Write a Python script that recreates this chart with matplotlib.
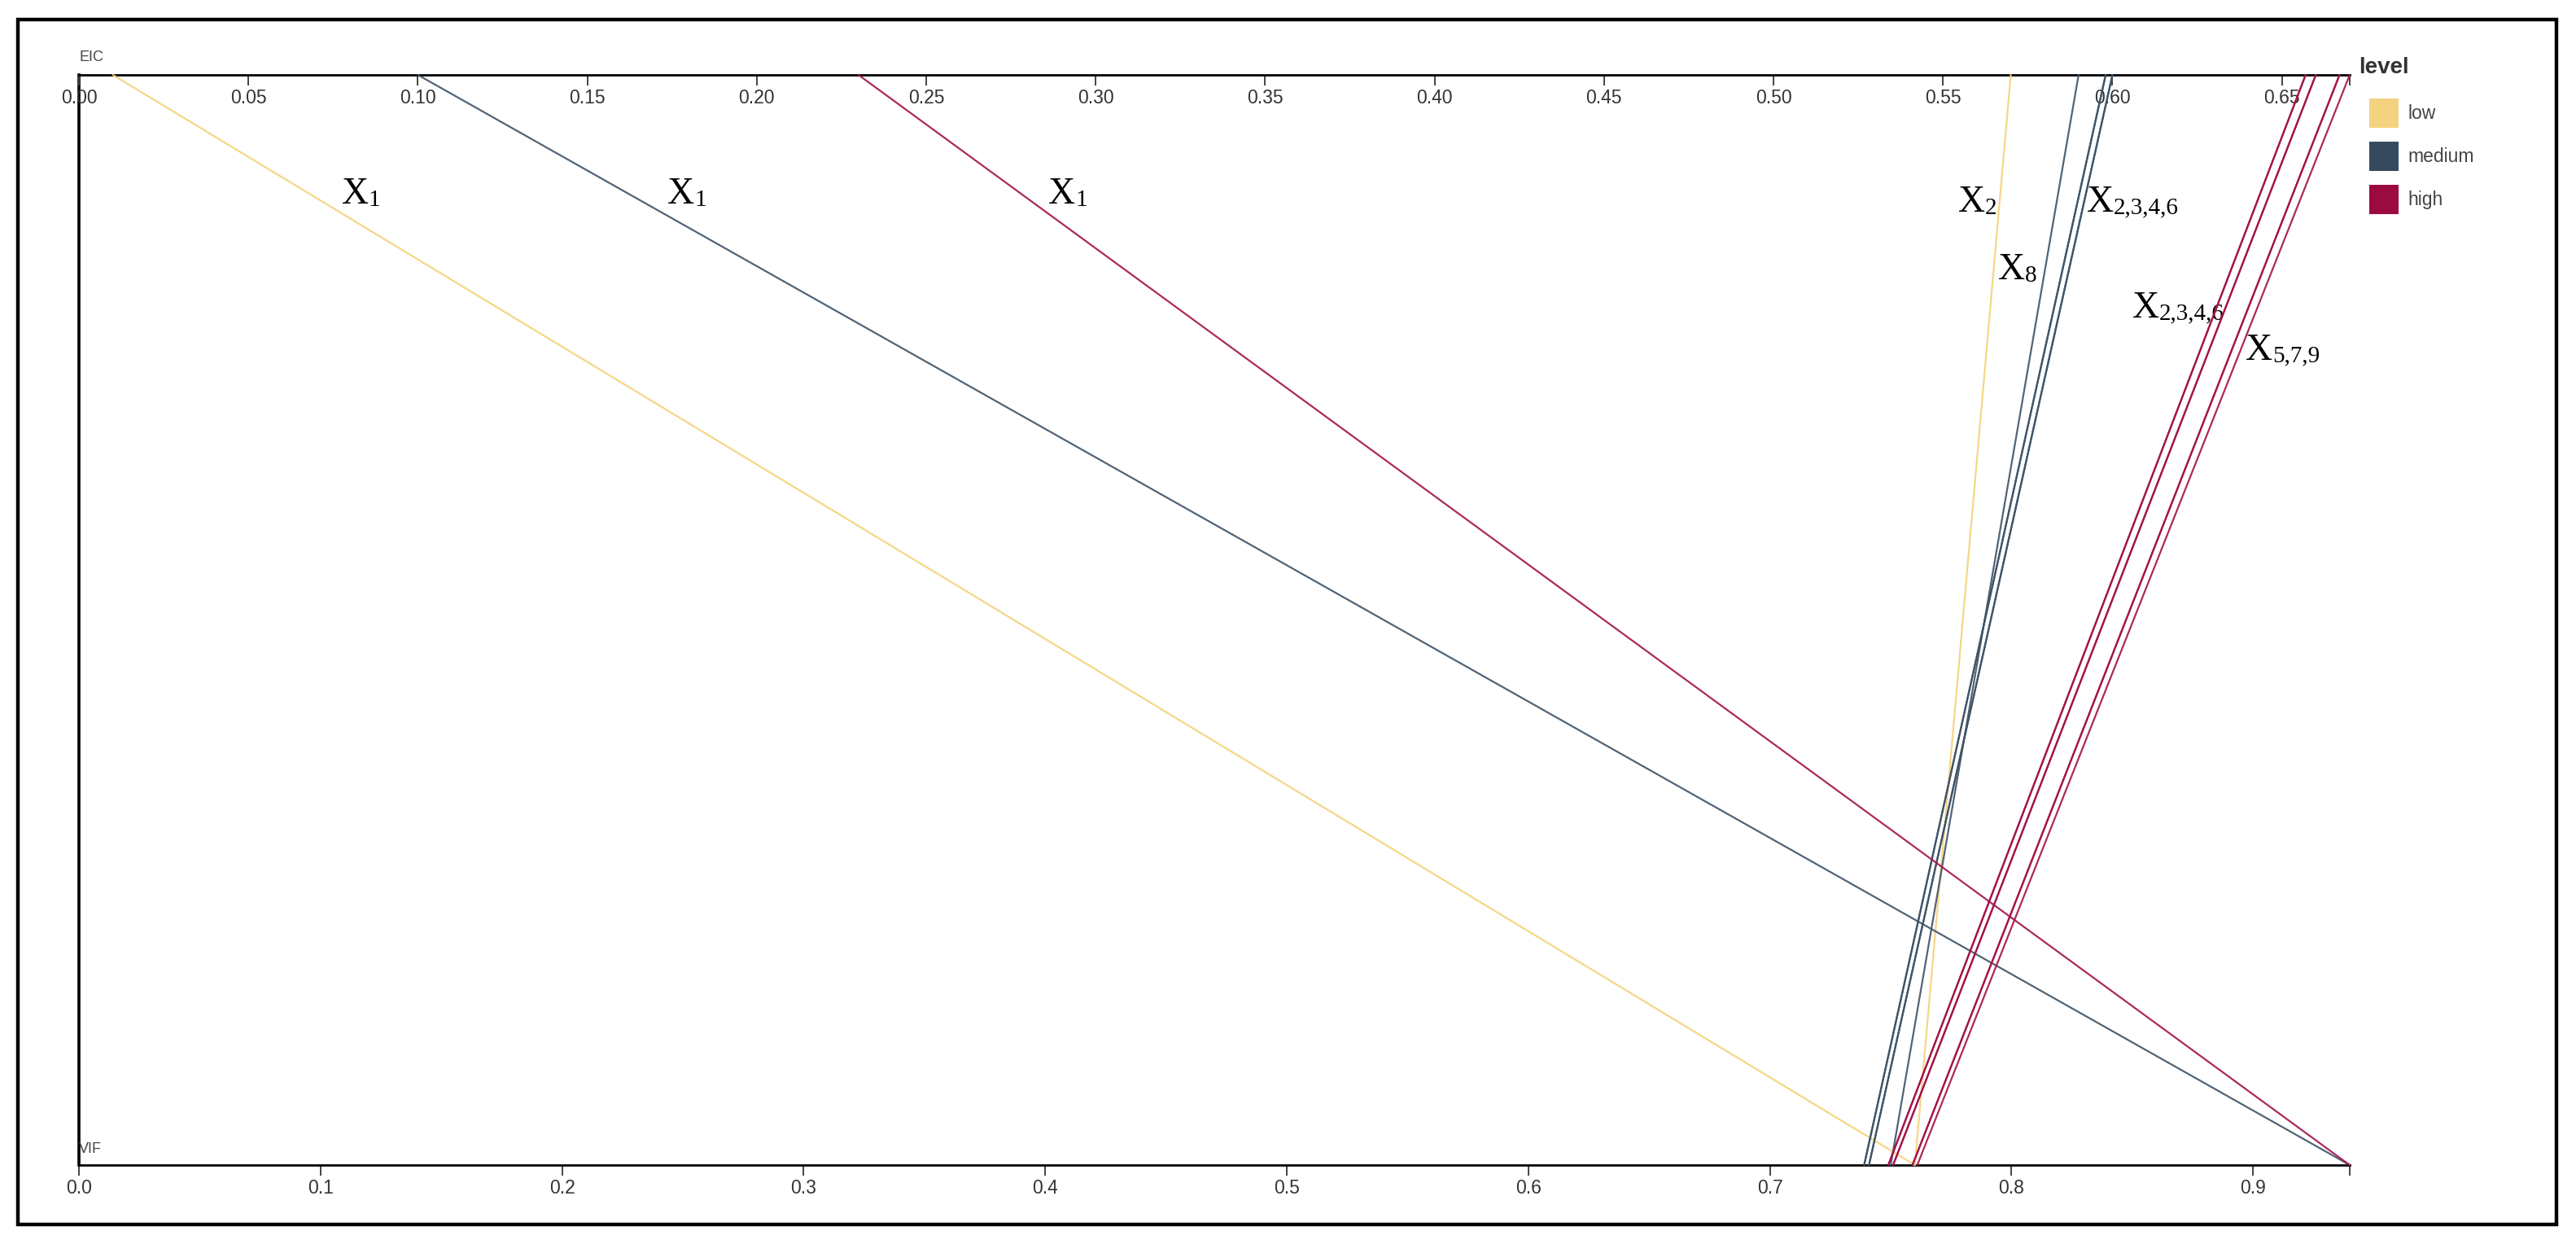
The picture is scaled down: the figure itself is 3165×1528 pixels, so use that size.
import matplotlib
matplotlib.use("Agg")
import matplotlib.pyplot as plt
from matplotlib.patches import ConnectionPatch, Patch, Rectangle

plt.rcParams['font.family'] = ['Liberation Sans', 'DejaVu Sans']

# one line per variable: EIC value on the top axis, VIF value on the bottom axis
eic = [0.01, 0.57,
       0.10, 0.59, 0.598, 0.598, 0.600, 0.600,
       0.23, 0.657, 0.657, 0.660, 0.660, 0.667, 0.667, 0.670, 0.0]
vif = [0.76, 0.76,
       0.94, 0.75, 0.739, 0.739, 0.741, 0.741,
       0.94, 0.749, 0.749, 0.751, 0.751, 0.759, 0.759, 0.761, 0.0]
level = ['low', 'low',
         'medium', 'medium', 'medium', 'medium', 'medium', 'medium',
         'high', 'high', 'high', 'high', 'high', 'high', 'high', 'high', 'high']

level_names = ['low', 'medium', 'high']
patch_colors = {'low': '#F3D37F', 'medium': '#354A5F', 'high': '#9B0A40'}
line_colors = {'low': '#F5D27A', 'medium': '#3E5366', 'high': '#A3124A'}

eic_max = 0.67
vif_max = 0.94
eic_ticks = [0.00, 0.05, 0.10, 0.15, 0.20, 0.25, 0.30, 0.35, 0.40, 0.45, 0.50, 0.55, 0.60, 0.65]
vif_ticks = [0.0, 0.1, 0.2, 0.3, 0.4, 0.5, 0.6, 0.7, 0.8, 0.9]

# annotations: subscript, position (VIF units, height fraction)
lab_sub = ['1', '1', '1', '2', '2,3,4,6', '8', '2,3,4,6', '5,7,9']
lab_x = [0.1088, 0.2436, 0.4013, 0.7779, 0.8312, 0.7944, 0.8500, 0.8969]
lab_y = [0.882, 0.882, 0.882, 0.8745, 0.8745, 0.8125, 0.7775, 0.7386]

fig = plt.figure(figsize=(31.65, 15.28), dpi=100)

# bottom axis (VIF) with the left edge line
ax = fig.add_axes([0.03065, 0.06348, 0.8815, 0.8763])
ax.set_xlim(0, vif_max)
ax.set_ylim(0, 1)
ax.patch.set_alpha(0)
ax.spines['top'].set_visible(False)
ax.spines['right'].set_visible(False)
ax.spines['left'].set_linewidth(2.6)
ax.spines['bottom'].set_linewidth(2)
ax.set_yticks([])
ax.set_xticks(vif_ticks)
ax.set_xticklabels([f'{v:.1f}' for v in vif_ticks])
ax.set_xticks([vif_max], minor=True)
ax.tick_params(axis='x', which='both', length=9, width=1.4, color='#444',
               pad=3, labelsize=16.5, labelcolor='#333')

# top axis (EIC): a flat axes whose bottom spine is the top line
ax_top = fig.add_axes([0.03065, 0.9398, 0.8815, 0.0001])
ax_top.set_xlim(0, eic_max)
ax_top.set_ylim(0, 1)
ax_top.patch.set_visible(False)
for s in ['top', 'left', 'right']:
    ax_top.spines[s].set_visible(False)
ax_top.spines['bottom'].set_linewidth(2)
ax_top.set_yticks([])
ax_top.set_xticks(eic_ticks)
ax_top.set_xticklabels([f'{v:.2f}' for v in eic_ticks])
ax_top.set_xticks([eic_max], minor=True)
ax_top.tick_params(axis='x', which='both', length=9, width=1.4, color='#444',
                   pad=3, labelsize=16.5, labelcolor='#333')

ax_top.annotate('EIC', xy=(0, 0), xycoords='axes fraction', xytext=(0, 12),
                textcoords='offset points', fontsize=13, color='#444', va='baseline')
ax.annotate('VIF', xy=(0, 0), xycoords='axes fraction', xytext=(0, 11),
            textcoords='offset points', fontsize=13, color='#444', va='baseline')

# the parallel-coordinate lines
for e, v, lv in zip(eic, vif, level):
    con = ConnectionPatch(xyA=(e, 0), coordsA=ax_top.transData,
                          xyB=(v, 0), coordsB=ax.transData,
                          color=line_colors[lv], lw=1.6, alpha=0.9,
                          zorder=-1 if (e == 0 and v == 0) else 1)
    fig.add_artist(con)

# X labels
for sub, x, y in zip(lab_sub, lab_x, lab_y):
    ax.text(x, y, 'X', fontsize=33, family='Liberation Serif', va='baseline', zorder=5)
    ax.annotate(sub, xy=(x, y), xycoords='data', xytext=(0.72 * 33, -2),
                textcoords='offset points', fontsize=21, family='Liberation Serif',
                va='baseline', zorder=5)

# legend
handles = [Patch(facecolor=patch_colors[n], edgecolor='none', label=n) for n in level_names]
leg = fig.legend(handles=handles, loc='upper left',
                 bbox_to_anchor=(0.9197, 0.9208), frameon=False, fontsize=16.5,
                 handlelength=1.57, handleheight=2.04, handletextpad=0.5,
                 labelspacing=0.74, borderpad=0, borderaxespad=0)
for t in leg.get_texts():
    t.set_color('#444')
fig.text(0.9156, 0.9411, 'level', fontsize=20, fontweight='bold', color='#333', va='baseline')

# outer frame
fig.add_artist(Rectangle((0.00695, 0.0157), 0.9855, 0.9686, transform=fig.transFigure,
                         fill=False, lw=3.2, ec='black'))

fig.savefig('out.png', dpi=100, facecolor='white')
